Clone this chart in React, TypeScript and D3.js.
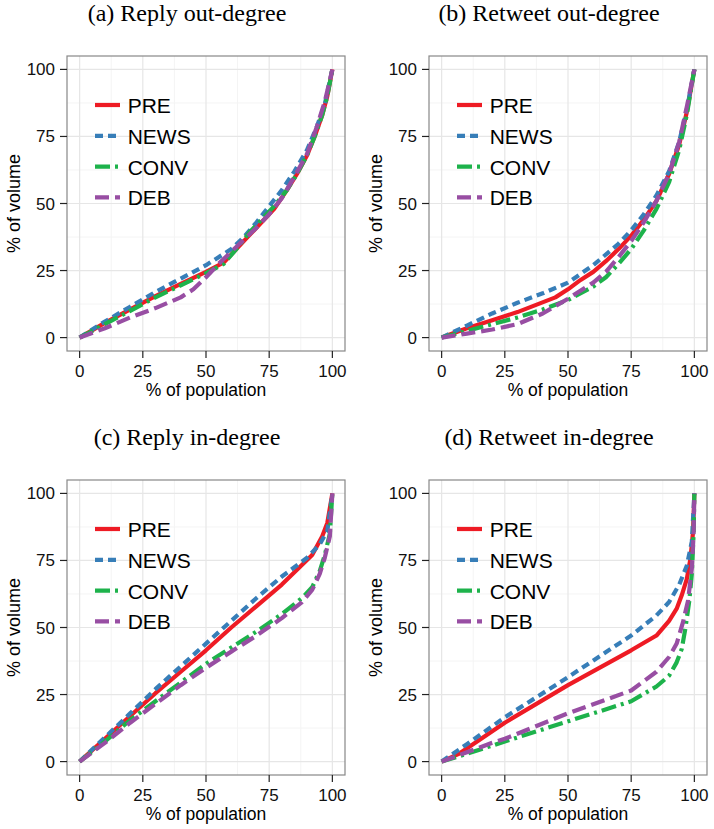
import React from "react";
import * as d3 from "d3";

type Pt = [number, number];

const categories = ["PRE", "NEWS", "CONV", "DEB"];
const seriesColors = ["#EE1B24", "#377EB8", "#1DB24B", "#984EA3"];
const seriesDash = ["none", "8,5", "15,5,3,5", "14,6"];
const tickValues = [0, 25, 50, 75, 100];
const minorValues = [12.5, 37.5, 62.5, 87.5];
const panelTitles = [
  "(a) Reply out-degree",
  "(b) Retweet out-degree",
  "(c) Reply in-degree",
  "(d) Retweet in-degree",
];
const xAxisTitle = "% of population";
const yAxisTitle = "% of volume";

// (a) Reply out-degree
const replyOutPRE: Pt[] = [[0,0],[10,5.5],[20,10.5],[30,15.5],[40,20],[50,24.5],[57,28],[62,33],[67,38],[72,43],[77,48],[82,55],[86,61],[90,68],[93,75],[96,83],[98,90],[100,100]];
const replyOutNEWS: Pt[] = [[0,0],[10,6],[20,11.5],[30,17],[40,22],[50,27],[60,33],[65,37.5],[70,43],[75,49],[80,55],[85,62],[90,70],[94,79],[97,87],[100,100]];
const replyOutCONV: Pt[] = [[0,0],[10,5],[20,10],[30,15],[40,19.5],[50,24],[57,27.5],[62,33],[67,39],[72,44],[77,49],[82,55],[86,61],[90,68],[93,75],[96,83],[98,90],[100,100]];
const replyOutDEB: Pt[] = [[0,0],[10,3.5],[20,7.5],[30,11],[40,15],[45,18],[50,22.5],[55,27.5],[60,32],[65,36.5],[70,41],[75,46],[80,52],[85,60],[90,68.5],[94,79],[97,88],[100,100]];

// (b) Retweet out-degree
const retweetOutPRE: Pt[] = [[0,0],[10,3.5],[20,6.5],[30,9.5],[45,15],[50,18],[55,21.5],[60,24.5],[65,28.5],[70,33],[75,38],[80,44],[85,51],[90,61],[94,72],[97,84],[100,100]];
const retweetOutNEWS: Pt[] = [[0,0],[10,4.5],[20,9],[30,13],[40,16.5],[50,20.5],[60,27],[70,35],[75,40],[80,46],[85,53],[90,62],[94,73],[97,85],[100,100]];
const retweetOutCONV: Pt[] = [[0,0],[10,2.5],[20,5],[30,7.5],[40,10.5],[50,14],[60,19],[65,22.5],[70,27.5],[75,33],[80,40],[85,48],[90,58],[94,70],[97,83],[100,100]];
const retweetOutDEB: Pt[] = [[0,0],[10,1.5],[20,3],[30,5],[40,9],[50,14.5],[60,20.5],[65,24.5],[70,30],[75,36],[80,43],[85,51],[90,61],[94,73],[97,86],[100,100]];

// (c) Reply in-degree
const replyInPRE: Pt[] = [[0,0],[10,8.5],[20,17],[30,25.5],[40,33.5],[50,41.5],[60,50],[70,58],[80,66],[92,77],[96,84],[98,89],[100,100]];
const replyInNEWS: Pt[] = [[0,0],[10,9],[20,18],[30,27],[40,35.5],[50,44],[60,52.5],[70,61],[80,69],[90,76],[95,81],[98,86],[100,100]];
const replyInCONV: Pt[] = [[0,0],[10,7.5],[20,15.5],[30,22.5],[40,29.5],[50,36.5],[60,42.5],[70,48.5],[80,55],[88,61],[92,65],[95,71],[97,77],[99,85],[100,100]];
const replyInDEB: Pt[] = [[0,0],[10,7],[20,14.5],[30,21.5],[40,28.5],[50,35],[60,41],[70,47],[80,53.5],[88,59.5],[92,64],[95,70],[97,76],[99,84],[100,100]];

// (d) Retweet in-degree
const retweetInPRE: Pt[] = [[0,0],[7,3],[25,14.5],[50,28.5],[75,41.5],[85,47],[90,52.5],[93,57],[95,62],[97,68],[98.5,76],[99.5,86],[100,100]];
const retweetInNEWS: Pt[] = [[0,0],[10,6.5],[25,16.5],[50,31.5],[75,47],[85,54.5],[90,59.5],[94,66],[97,73],[99,82],[100,100]];
const retweetInCONV: Pt[] = [[0,0],[7,2],[25,7.5],[50,15],[75,22.5],[85,28],[90,32],[93,37],[95,42],[96.5,50],[98,60],[99,70],[99.7,85],[100,100]];
const retweetInDEB: Pt[] = [[0,0],[10,3.5],[20,7],[25,8.5],[50,18],[75,26.5],[85,33.5],[90,39],[93,44],[95.5,52],[97.5,60],[99,72],[99.7,85],[100,100]];

const panelSeries: Pt[][][] = [
  [replyOutPRE, replyOutNEWS, replyOutCONV, replyOutDEB],
  [retweetOutPRE, retweetOutNEWS, retweetOutCONV, retweetOutDEB],
  [replyInPRE, replyInNEWS, replyInCONV, replyInDEB],
  [retweetInPRE, retweetInNEWS, retweetInCONV, retweetInDEB],
];

const W = 714;
const H = 829;
const PW = 278;
const PH = 295;
const panelPos: Pt[] = [
  [67, 56],
  [429, 56],
  [67, 480],
  [429, 480],
];

const SANS = "'Liberation Sans', Arial, Helvetica, sans-serif";
const SERIF = "'Liberation Serif', 'Times New Roman', serif";
const LW = 4.2;

function Panel({ idx }: { idx: number }) {
  const [left, top] = panelPos[idx];
  const x = d3.scaleLinear().domain([-5, 105]).range([0, PW]);
  const y = d3.scaleLinear().domain([-5, 105]).range([PH, 0]);
  const line = d3
    .line<Pt>()
    .x((d) => x(d[0]))
    .y((d) => y(d[1]))
    .curve(d3.curveLinear);
  const series = panelSeries[idx];
  return (
    <g transform={`translate(${left},${top})`}>
      <text x={120} y={-35} textAnchor="middle" fontFamily={SERIF} fontSize={24} fill="#000">
        {panelTitles[idx]}
      </text>
      <rect x={0} y={0} width={PW} height={PH} fill="#fff" />
      {minorValues.map((v) => (
        <g key={"m" + v}>
          <line x1={x(v)} x2={x(v)} y1={0} y2={PH} stroke="#F4F4F4" strokeWidth={1} />
          <line x1={0} x2={PW} y1={y(v)} y2={y(v)} stroke="#F4F4F4" strokeWidth={1} />
        </g>
      ))}
      {tickValues.map((v) => (
        <g key={"g" + v}>
          <line x1={x(v)} x2={x(v)} y1={0} y2={PH} stroke="#E6E6E6" strokeWidth={1.2} />
          <line x1={0} x2={PW} y1={y(v)} y2={y(v)} stroke="#E6E6E6" strokeWidth={1.2} />
        </g>
      ))}
      {series.map((pts, i) => (
        <path
          key={categories[i]}
          d={line(pts) || ""}
          fill="none"
          stroke={seriesColors[i]}
          strokeWidth={LW}
          strokeDasharray={seriesDash[i]}
          strokeLinejoin="round"
        />
      ))}
      <rect x={0} y={0} width={PW} height={PH} fill="none" stroke="#888" strokeWidth={1.2} />
      {tickValues.map((v) => (
        <g key={"t" + v}>
          <line x1={-7} x2={0} y1={y(v)} y2={y(v)} stroke="#222" strokeWidth={1.2} />
          <text x={-12} y={y(v) + 6} textAnchor="end" fontFamily={SANS} fontSize={17} fill="#111">
            {v}
          </text>
          <line x1={x(v)} x2={x(v)} y1={PH} y2={PH + 7} stroke="#222" strokeWidth={1.2} />
          <text x={x(v)} y={PH + 26} textAnchor="middle" fontFamily={SANS} fontSize={17} fill="#111">
            {v}
          </text>
        </g>
      ))}
      <text x={x(50)} y={PH + 45} textAnchor="middle" fontFamily={SANS} fontSize={17.5} fill="#000">
        {xAxisTitle}
      </text>
      <text
        transform={`translate(${-47.5},${PH / 2}) rotate(-90)`}
        textAnchor="middle"
        fontFamily={SANS}
        fontSize={18}
        fill="#000"
      >
        {yAxisTitle}
      </text>
      {categories.map((c, i) => {
        const ly = 49 + i * 30.8;
        return (
          <g key={"l" + c}>
            <line
              x1={28}
              x2={53}
              y1={ly}
              y2={ly}
              stroke={seriesColors[i]}
              strokeWidth={LW}
              strokeDasharray={seriesDash[i]}
            />
            <text x={60.7} y={ly + 8} fontFamily={SANS} fontSize={21} fill="#000">
              {c}
            </text>
          </g>
        );
      })}
    </g>
  );
}

export default function App() {
  return (
    <svg
      width={W}
      height={H}
      viewBox={`0 0 ${W} ${H}`}
      style={{ position: "absolute", left: 0, top: 0, background: "#fff" }}
    >
      <rect x={0} y={0} width={W} height={H} fill="#fff" />
      {[0, 1, 2, 3].map((i) => (
        <Panel key={i} idx={i} />
      ))}
    </svg>
  );
}
